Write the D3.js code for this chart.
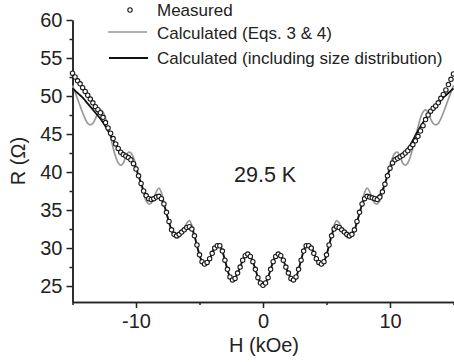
<!DOCTYPE html>
<html>
<head>
<meta charset="utf-8">
<script src="https://cdn.jsdelivr.net/npm/d3@7"></script>
<style>
  body { margin: 0; background: #fff; }
  svg { display: block; font-family: "Liberation Sans", Arial, sans-serif; }
  .axis path, .axis line { stroke: #222; stroke-width: 1.5; }
  .axis text { font-family: "Liberation Sans", Arial, sans-serif; font-size: 20px; fill: #222; }
</style>
</head>
<body>
<div class="chart"></div>
<script>
// field (kOe)
const fieldH = [
  -15,-14.8,-14.6,-14.4,-14.2,-14,-13.8,-13.6,-13.4,-13.2,
  -13,-12.8,-12.6,-12.4,-12.2,-12,-11.8,-11.6,-11.4,-11.2,
  -11,-10.8,-10.6,-10.4,-10.2,-10,-9.8,-9.6,-9.4,-9.2,
  -9,-8.8,-8.6,-8.4,-8.2,-8,-7.8,-7.6,-7.4,-7.2,
  -7,-6.8,-6.6,-6.4,-6.2,-6,-5.8,-5.6,-5.4,-5.2,
  -5,-4.8,-4.6,-4.4,-4.2,-4,-3.8,-3.6,-3.4,-3.2,
  -3,-2.8,-2.6,-2.4,-2.2,-2,-1.8,-1.6,-1.4,-1.2,
  -1,-0.8,-0.6,-0.4,-0.2,0,0.2,0.4,0.6,0.8,
  1,1.2,1.4,1.6,1.8,2,2.2,2.4,2.6,2.8,
  3,3.2,3.4,3.6,3.8,4,4.2,4.4,4.6,4.8,
  5,5.2,5.4,5.6,5.8,6,6.2,6.4,6.6,6.8,
  7,7.2,7.4,7.6,7.8,8,8.2,8.4,8.6,8.8,
  9,9.2,9.4,9.6,9.8,10,10.2,10.4,10.6,10.8,
  11,11.2,11.4,11.6,11.8,12,12.2,12.4,12.6,12.8,
  13,13.2,13.4,13.6,13.8,14,14.2,14.4,14.6,14.8,
  15
];

// R (ohm) measured
const measured = [
  53.0,52.5,52.0,51.6,51.1,50.6,50.1,49.6,49.1,48.6,
  48.2,47.8,47.2,46.5,45.8,45.1,44.4,43.7,43.1,42.6,
  42.3,42.1,41.9,41.6,41.1,40.4,39.5,38.5,37.5,36.9,
  36.5,36.4,36.5,36.7,36.8,36.5,35.8,34.7,33.5,32.4,
  31.8,31.6,31.8,32.1,32.4,32.7,32.8,32.5,31.6,30.4,
  29.1,28.2,27.9,28.1,28.6,29.3,30.0,30.3,30.3,29.6,
  28.4,27.2,26.2,25.8,26.0,26.7,27.5,28.4,29.0,29.2,
  28.9,28.2,27.2,26.1,25.4,25.1,25.4,26.1,27.2,28.2,
  28.9,29.2,29.0,28.4,27.5,26.7,26.0,25.8,26.2,27.2,
  28.4,29.6,30.3,30.3,30.0,29.3,28.6,28.1,27.9,28.2,
  29.1,30.4,31.6,32.5,32.8,32.7,32.4,32.1,31.8,31.6,
  31.8,32.4,33.5,34.7,35.8,36.5,36.8,36.7,36.6,36.5,
  36.4,36.7,37.4,38.4,39.5,40.5,41.2,41.6,41.8,42.0,
  42.2,42.5,42.8,43.2,43.6,44.1,44.7,45.4,46.1,46.9,
  47.5,48.0,48.4,48.7,49.1,49.7,50.2,50.8,51.5,52.2,
  52.9
];

// calculated, Eqs. 3 & 4
const calcEqs = [
  51.4,50.5,49.6,48.7,47.8,47.0,46.4,46.2,46.4,47.0,
  47.8,48.2,47.9,47.1,45.9,44.6,43.2,42.0,41.2,40.9,
  41.2,42.0,42.6,42.5,41.9,40.9,39.6,38.3,37.1,36.2,
  35.8,35.9,36.5,37.4,37.9,37.3,36.0,34.6,33.3,32.2,
  31.5,31.3,31.4,31.9,32.6,33.3,33.6,33.0,31.8,30.4,
  29.1,28.1,27.7,27.9,28.5,29.3,30.1,30.5,30.5,29.7,
  28.4,27.1,26.1,25.7,25.9,26.6,27.5,28.4,29.1,29.4,
  29.0,28.3,27.2,26.1,25.4,25.1,25.4,26.1,27.2,28.3,
  29.0,29.4,29.1,28.4,27.5,26.6,25.9,25.7,26.1,27.1,
  28.4,29.7,30.5,30.5,30.1,29.3,28.5,27.9,27.7,28.1,
  29.1,30.4,31.8,33.0,33.6,33.3,32.6,31.9,31.4,31.3,
  31.5,32.2,33.3,34.6,36.0,37.3,37.9,37.4,36.5,35.9,
  35.8,36.2,37.1,38.3,39.6,40.9,41.9,42.5,42.6,42.0,
  41.2,40.9,41.2,42.0,43.2,44.6,45.9,47.1,47.9,48.2,
  47.8,47.0,46.4,46.2,46.4,47.0,47.8,48.7,49.6,50.5,
  51.4
];

// calculated, including size distribution
const calcDist = [
  51.0,50.7,50.4,50.1,49.8,49.4,49.0,48.6,48.2,47.8,
  47.4,47.0,46.5,46.0,45.4,44.8,44.2,43.6,43.1,42.7,
  42.4,42.2,42.0,41.7,41.2,40.4,39.5,38.5,37.6,37.0,
  36.7,36.6,36.7,36.9,36.9,36.5,35.7,34.6,33.4,32.4,
  31.8,31.6,31.8,32.1,32.5,32.8,32.9,32.5,31.6,30.3,
  29.1,28.2,27.9,28.1,28.6,29.4,30.1,30.4,30.3,29.6,
  28.4,27.2,26.2,25.9,26.1,26.7,27.5,28.4,29.0,29.2,
  28.9,28.2,27.2,26.2,25.5,25.2,25.5,26.2,27.2,28.2,
  28.9,29.2,29.0,28.4,27.5,26.7,26.1,25.9,26.2,27.2,
  28.4,29.6,30.3,30.4,30.1,29.4,28.6,28.1,27.9,28.2,
  29.1,30.3,31.6,32.5,32.9,32.8,32.5,32.1,31.8,31.6,
  31.8,32.4,33.4,34.6,35.7,36.5,36.9,36.9,36.7,36.6,
  36.7,37.0,37.6,38.5,39.5,40.4,41.2,41.7,42.0,42.2,
  42.4,42.7,43.1,43.6,44.2,44.8,45.4,46.0,46.5,47.0,
  47.4,47.8,48.2,48.6,49.0,49.4,49.8,50.1,50.4,50.7,
  51.0
];

const xTicks = [-10, 0, 10];
const xMinor = [-15, -5, 5, 15];
const yTicks = [25, 30, 35, 40, 45, 50, 55, 60];
const yMinor = [27.5, 32.5, 37.5, 42.5, 47.5, 52.5, 57.5];

const legendLabels = ["Measured", "Calculated (Eqs. 3 & 4)", "Calculated (including size distribution)"];

const w = 454;
const h = 362;

let svg = d3.
select(".chart").
append("svg").
attr("width", w).
attr("height", h);

const xScale = d3.scaleLinear().domain([-15, 15]).range([72.5, 453.5]);
const yScale = d3.scaleLinear().domain([22.9, 60]).range([302, 20]);

// minor ticks first, majors on top
svg.append("g").
attr("class", "axis").
attr("transform", "translate(0,302)").
call(d3.axisBottom(xScale).tickValues(xMinor).tickSize(3).tickSizeOuter(0).tickFormat(""));

svg.append("g").
attr("class", "axis").
attr("transform", "translate(0,302)").
call(d3.axisBottom(xScale).tickValues(xTicks).tickSize(6).tickSizeOuter(0).tickPadding(6).tickFormat(d => String(d))).
selectAll("text").attr("dy", "0.71em");

svg.append("g").
attr("class", "axis").
attr("transform", "translate(72.5,0)").
call(d3.axisLeft(yScale).tickValues(yMinor).tickSize(3).tickSizeOuter(0).tickFormat(""));

svg.append("g").
attr("class", "axis").
attr("transform", "translate(72.5,0)").
call(d3.axisLeft(yScale).tickValues(yTicks).tickSize(6).tickSizeOuter(0).tickPadding(4));

// axis titles
svg.append("text").
attr("x", 264).
attr("y", 352).
attr("text-anchor", "middle").
style("font-size", "20px").
style("fill", "#222").
text("H (kOe)");

svg.append("text").
attr("transform", "translate(25,161) rotate(-90)").
attr("text-anchor", "middle").
style("font-size", "20px").
style("fill", "#222").
text("R (\u03A9)");

svg.append("text").
attr("x", 234).
attr("y", 182).
style("font-size", "21.5px").
style("fill", "#222").
text("29.5 K");

// curves
let line = (vals) => d3.line().
x((d, i) => xScale(fieldH[i])).
y((d, i) => yScale(vals[i])).
curve(d3.curveCatmullRom.alpha(0.5));

svg.append("path").
datum(calcEqs).
attr("d", line(calcEqs)).
attr("fill", "none").
attr("stroke", "#999").
attr("stroke-width", 1.7);

svg.append("path").
datum(calcDist).
attr("d", line(calcDist)).
attr("fill", "none").
attr("stroke", "#111").
attr("stroke-width", 1.8);

svg.selectAll("circle.meas").
data(measured).
enter().
append("circle").
attr("class", "meas").
attr("cx", (d, i) => xScale(fieldH[i])).
attr("cy", d => yScale(d)).
attr("r", 2.2).
attr("fill", "#fff").
attr("stroke", "#1a1a1a").
attr("stroke-width", 1.1);

// legend
let legend = svg.append("g").style("font-size", "17px").style("fill", "#222");

legend.append("circle").
attr("cx", 130).attr("cy", 10).attr("r", 2.2).
attr("fill", "#fff").attr("stroke", "#1a1a1a").attr("stroke-width", 1.1);
legend.append("line").
attr("x1", 108).attr("x2", 147).attr("y1", 32).attr("y2", 32).
attr("stroke", "#999").attr("stroke-width", 1.7);
legend.append("line").
attr("x1", 109).attr("x2", 148).attr("y1", 58).attr("y2", 58).
attr("stroke", "#111").attr("stroke-width", 1.8);

legend.selectAll("text").
data(legendLabels).
enter().
append("text").
attr("x", 157).
attr("y", (d, i) => [16, 38.5, 64][i]).
text(d => d);
</script>
</body>
</html>
